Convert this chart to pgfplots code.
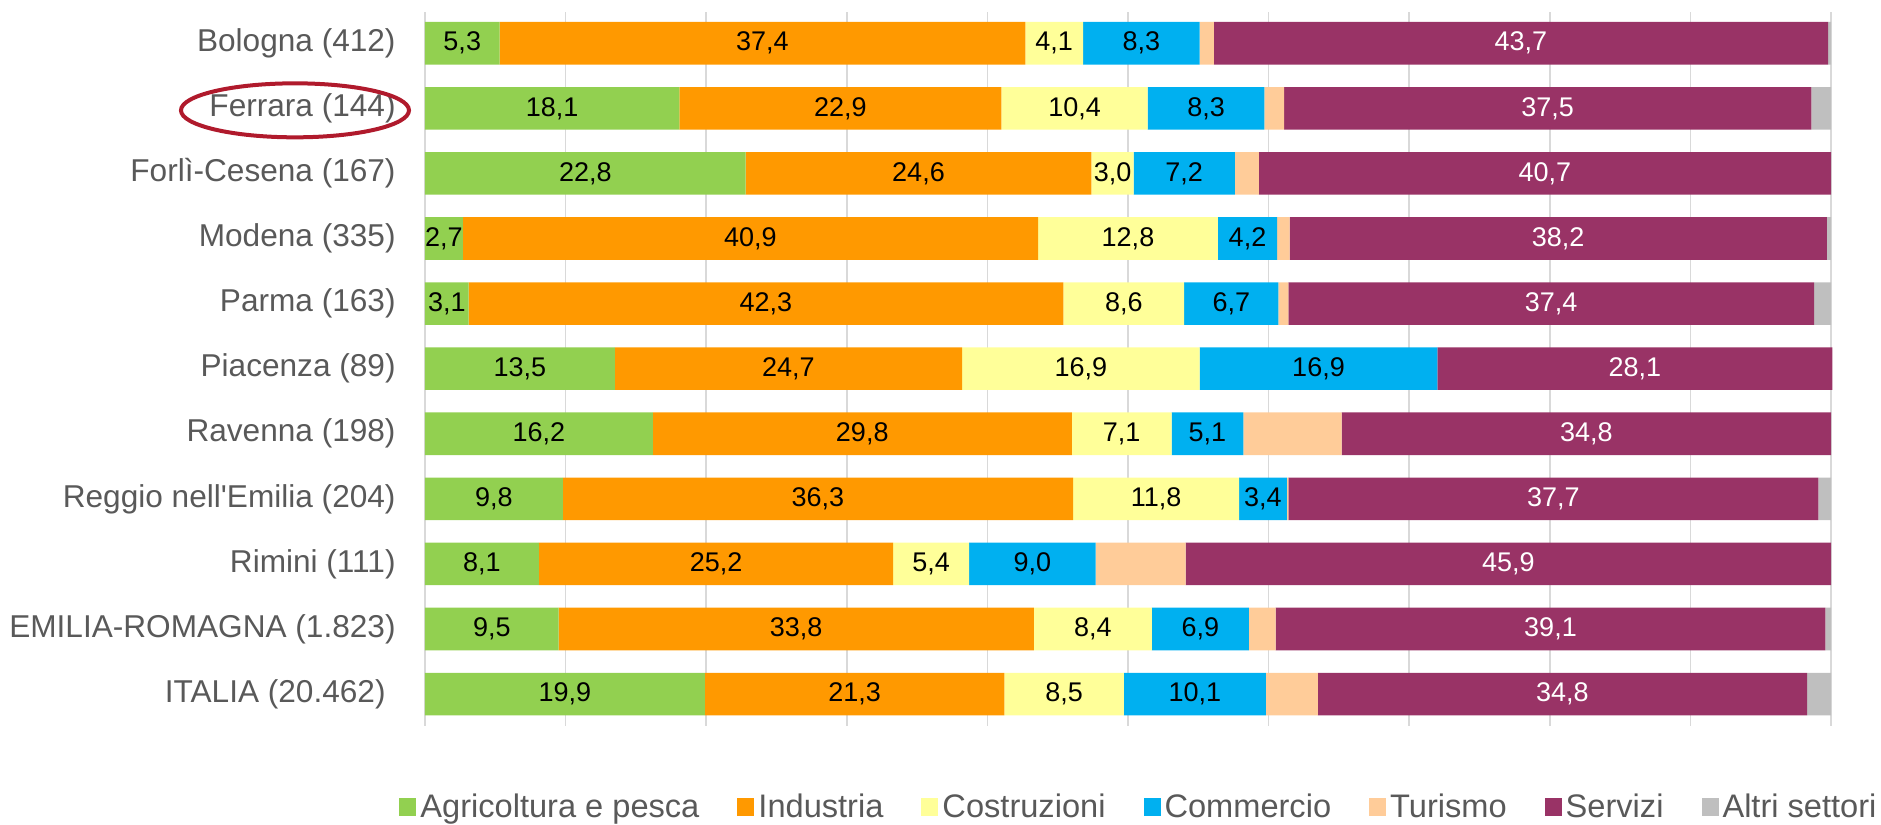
\documentclass[border=0pt]{standalone}
\usepackage{pgfplots}
\pgfplotsset{compat=1.18}
\usepackage{pgfplotstable}
\usepackage{fontspec}
\setmainfont{Liberation Sans}
\definecolor{cagr}{HTML}{92D050}
\definecolor{cind}{HTML}{FF9900}
\definecolor{ccos}{HTML}{FFFF99}
\definecolor{ccom}{HTML}{00B0F0}
\definecolor{ctur}{HTML}{FFCC99}
\definecolor{cser}{HTML}{993366}
\definecolor{calt}{HTML}{BFBFBF}
\definecolor{ctxt}{HTML}{595959}
\definecolor{cgrid}{HTML}{D9D9D9}
\definecolor{cring}{RGB}{176,26,44}
\pgfplotstableread{
idx agr ind cos com tur ser alt
0   5.3  37.4 4.1  8.3  1.0 43.7 0.2
1   18.1 22.9 10.4 8.3  1.4 37.5 1.4
2   22.8 24.6 3.0  7.2  1.7 40.7 0.0
3   2.7  40.9 12.8 4.2  0.9 38.2 0.3
4   3.1  42.3 8.6  6.7  0.7 37.4 1.2
5   13.5 24.7 16.9 16.9 0.0 28.1 0.0
6   16.2 29.8 7.1  5.1  7.0 34.8 0.0
7   9.8  36.3 11.8 3.4  0.1 37.7 0.9
8   8.1  25.2 5.4  9.0  6.4 45.9 0.0
9   9.5  33.8 8.4  6.9  1.9 39.1 0.4
10  19.9 21.3 8.5  10.1 3.7 34.8 1.7
}\datatable
\begin{document}
\begin{tikzpicture}
\useasboundingbox (-212.5pt,-49.5pt) rectangle (728pt,363pt);
\begin{axis}[
  scale only axis,
  width=703pt, height=357pt,
  xbar stacked,
  bar width=21.3pt,
  xmin=0, xmax=100,
  ymin=-0.48, ymax=10.49,
  y dir=reverse,
  xtick={0,10,...,100},
  xticklabels={,,,,,,,,,,},
  xmajorgrids,
  grid style={cgrid, line width=0.8pt},
  major tick length=0pt,
  axis line style={draw=none},
  ytick={0,...,10},
  yticklabels={Bologna (412),Ferrara (144),Forlì-Cesena (167),Modena (335),Parma (163),Piacenza (89),Ravenna (198),Reggio nell\textquotesingle Emilia (204),Rimini (111),EMILIA-ROMAGNA (1.823),ITALIA (20.462)\kern5pt},
  yticklabel style={font=\fontsize{15.8}{18}\selectfont, text=ctxt},
  tick label style={inner sep=0pt},
  ytick style={draw=none},
  xtick style={draw=none},
  yticklabel style={xshift=-14.5pt},
  clip=false,
  /pgf/number format/assume math mode=true,
  point meta=explicit,
  nodes near coords={\pgfmathprintnumber[fixed,fixed zerofill,precision=1,use comma]{\pgfplotspointmeta}},
  every node near coord/.append style={font=\fontsize{13.5}{16}\selectfont, text=black},
  legend columns=7,
  legend style={at={(0.5085,-0.113)}, anchor=center, draw=none, fill=none,
    font=\fontsize{16.3}{18}\selectfont, text=ctxt,
    /tikz/every even column/.append style={column sep=17pt}},
  legend image code/.code={\fill[#1] (0pt,-4.5pt) rectangle (8.5pt,4.5pt);},
]
\addplot[fill=cagr, draw=none] table[x=agr, y=idx, meta=agr] {\datatable};
\addplot[fill=cind, draw=none] table[x=ind, y=idx, meta=ind] {\datatable};
\addplot[fill=ccos, draw=none] table[x=cos, y=idx, meta=cos] {\datatable};
\addplot[fill=ccom, draw=none] table[x=com, y=idx, meta=com] {\datatable};
\addplot[fill=ctur, draw=none, nodes near coords={}] table[x=tur, y=idx, meta=tur] {\datatable};
\addplot[fill=cser, draw=none, every node near coord/.append style={text=white}] table[x=ser, y=idx, meta=ser] {\datatable};
\addplot[fill=calt, draw=none, nodes near coords={}] table[x=alt, y=idx, meta=alt] {\datatable};
\legend{Agricoltura e pesca,Industria,Costruzioni,Commercio,Turismo,Servizi,Altri settori}
\draw[cring, line width=2pt] ([xshift=-65pt,yshift=-1pt]axis cs:0,1) ellipse [x radius=57pt, y radius=13.5pt];
\end{axis}
\end{tikzpicture}
\end{document}
